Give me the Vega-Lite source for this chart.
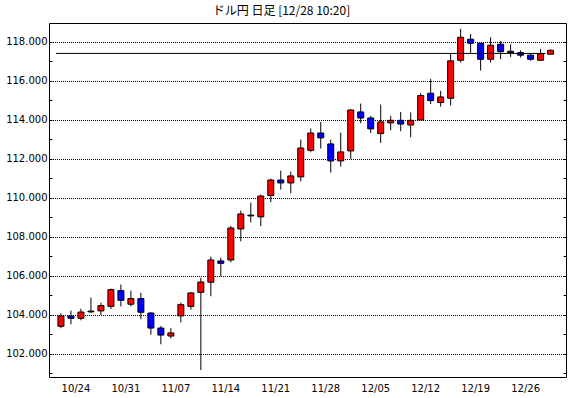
{
  "$schema": "https://vega.github.io/schema/vega-lite/v6.json",
  "width": 517,
  "height": 354,
  "autosize": {"type": "none"},
  "padding": {"left": 49, "top": 23, "right": 4, "bottom": 21},
  "background": "white",
  "title": {"text": "ドル円 日足 [12/28 10:20]", "font": "Noto Sans CJK JP", "fontSize": 12, "fontWeight": "normal", "color": "black", "anchor": "middle", "dx": -26, "offset": 5},
  "datasets": {
    "candles": [
      {"d": "10/20", "o": 103.42, "h": 104.09, "l": 103.32, "c": 103.95},
      {"d": "10/21", "o": 103.95, "h": 104.22, "l": 103.52, "c": 103.83},
      {"d": "10/24", "o": 103.83, "h": 104.32, "l": 103.73, "c": 104.15},
      {"d": "10/25", "o": 104.16, "h": 104.89, "l": 104.10, "c": 104.20},
      {"d": "10/26", "o": 104.21, "h": 104.63, "l": 104.00, "c": 104.48},
      {"d": "10/27", "o": 104.44, "h": 105.35, "l": 104.31, "c": 105.30},
      {"d": "10/28", "o": 105.25, "h": 105.56, "l": 104.44, "c": 104.75},
      {"d": "10/31", "o": 104.55, "h": 105.25, "l": 104.44, "c": 104.84},
      {"d": "11/01", "o": 104.84, "h": 105.13, "l": 103.78, "c": 104.14},
      {"d": "11/02", "o": 104.10, "h": 104.15, "l": 102.99, "c": 103.33},
      {"d": "11/03", "o": 103.33, "h": 103.44, "l": 102.50, "c": 102.97},
      {"d": "11/04", "o": 102.92, "h": 103.33, "l": 102.80, "c": 103.08},
      {"d": "11/07", "o": 103.95, "h": 104.63, "l": 103.62, "c": 104.53},
      {"d": "11/08", "o": 104.44, "h": 105.18, "l": 104.27, "c": 105.13},
      {"d": "11/09", "o": 105.16, "h": 105.91, "l": 101.18, "c": 105.69},
      {"d": "11/10", "o": 105.68, "h": 106.99, "l": 104.96, "c": 106.82},
      {"d": "11/11", "o": 106.77, "h": 106.94, "l": 105.98, "c": 106.65},
      {"d": "11/14", "o": 106.82, "h": 108.56, "l": 106.70, "c": 108.46},
      {"d": "11/15", "o": 108.41, "h": 109.35, "l": 107.78, "c": 109.18},
      {"d": "11/16", "o": 109.08, "h": 109.76, "l": 108.75, "c": 109.12},
      {"d": "11/17", "o": 109.03, "h": 110.17, "l": 108.55, "c": 110.10},
      {"d": "11/18", "o": 110.12, "h": 110.99, "l": 109.78, "c": 110.92},
      {"d": "11/21", "o": 110.92, "h": 111.40, "l": 110.43, "c": 110.77},
      {"d": "11/22", "o": 110.77, "h": 111.35, "l": 110.24, "c": 111.13},
      {"d": "11/23", "o": 111.08, "h": 112.99, "l": 110.85, "c": 112.56},
      {"d": "11/24", "o": 112.44, "h": 113.56, "l": 112.34, "c": 113.33},
      {"d": "11/25", "o": 113.33, "h": 113.90, "l": 112.53, "c": 113.08},
      {"d": "11/28", "o": 112.77, "h": 112.99, "l": 111.30, "c": 111.90},
      {"d": "11/29", "o": 111.90, "h": 113.35, "l": 111.61, "c": 112.36},
      {"d": "11/30", "o": 112.41, "h": 114.56, "l": 112.00, "c": 114.51},
      {"d": "12/01", "o": 114.41, "h": 114.84, "l": 113.83, "c": 114.10},
      {"d": "12/02", "o": 114.10, "h": 114.21, "l": 113.33, "c": 113.54},
      {"d": "12/05", "o": 113.30, "h": 114.79, "l": 112.82, "c": 113.90},
      {"d": "12/06", "o": 113.85, "h": 114.21, "l": 113.47, "c": 113.98},
      {"d": "12/07", "o": 113.98, "h": 114.41, "l": 113.42, "c": 113.79},
      {"d": "12/08", "o": 113.74, "h": 114.38, "l": 113.11, "c": 113.98},
      {"d": "12/09", "o": 114.00, "h": 115.38, "l": 114.00, "c": 115.25},
      {"d": "12/12", "o": 115.37, "h": 116.10, "l": 114.82, "c": 114.99},
      {"d": "12/13", "o": 114.89, "h": 115.49, "l": 114.68, "c": 115.18},
      {"d": "12/14", "o": 115.11, "h": 117.42, "l": 114.74, "c": 117.03},
      {"d": "12/15", "o": 117.06, "h": 118.67, "l": 116.94, "c": 118.24},
      {"d": "12/16", "o": 118.14, "h": 118.41, "l": 117.44, "c": 117.93},
      {"d": "12/19", "o": 117.93, "h": 117.95, "l": 116.53, "c": 117.11},
      {"d": "12/20", "o": 117.11, "h": 118.24, "l": 116.94, "c": 117.83},
      {"d": "12/21", "o": 117.88, "h": 118.05, "l": 117.11, "c": 117.50},
      {"d": "12/22", "o": 117.52, "h": 117.88, "l": 117.23, "c": 117.46},
      {"d": "12/23", "o": 117.45, "h": 117.57, "l": 117.20, "c": 117.32},
      {"d": "12/26", "o": 117.32, "h": 117.40, "l": 117.03, "c": 117.11},
      {"d": "12/27", "o": 117.06, "h": 117.64, "l": 117.03, "c": 117.40},
      {"d": "12/28", "o": 117.37, "h": 117.62, "l": 117.37, "c": 117.57}
    ],
    "last": [{"price": 117.41, "from": "10/20", "to": "12/28"}]
  },
  "config": {
    "view": {"stroke": "black", "strokeWidth": 1},
    "axis": {"labelFont": "DejaVu Sans", "labelFontSize": 10, "labelColor": "black", "tickColor": "black", "tickWidth": 1, "domain": false, "title": null}
  },
  "layer": [
    {
      "data": {"name": "candles"},
      "mark": {"type": "rule", "color": "black", "strokeWidth": 1},
      "encoding": {
        "x": {
          "field": "d", "type": "ordinal",
          "scale": {"paddingInner": 0, "paddingOuter": 0.87, "align": 0.4},
          "axis": {
            "orient": "bottom", "bandPosition": 0, "tickSize": 0, "labelPadding": 6, "labelAngle": 0, "labelOffset": -5,
            "labelOverlap": false, "labelFlush": false, "labelBound": false, "grid": false,
            "labelExpr": "indexof(['10/24','10/31','11/07','11/14','11/21','11/28','12/05','12/12','12/19','12/26'], datum.value) >= 0 ? datum.value : ''",
            "encode": {"ticks": {"update": {"y2": {"signal": "indexof(['10/24','10/31','11/07','11/14','11/21','11/28','12/05','12/12','12/19','12/26'], datum.value) >= 0 ? -5 : -2.5"}}}}
          }
        },
        "y": {
          "field": "l", "type": "quantitative",
          "scale": {"domain": [100.82, 118.97], "nice": false, "zero": false},
          "axis": {
            "orient": "left", "values": [101,102,103,104,105,106,107,108,109,110,111,112,113,114,115,116,117,118],
            "tickSize": -3, "labelPadding": 5, "labelOverlap": false, "labelFlush": false, "labelBound": false,
            "labelExpr": "datum.value % 2 == 0 ? format(datum.value, '.3f') : ''",
            "grid": true, "gridColor": "black", "gridDash": [1, 1], "gridDashOffset": 0.5, "gridWidth": 1,
            "gridOpacity": {"condition": {"test": "datum.value % 2 == 0", "value": 1}, "value": 0}
          }
        },
        "y2": {"field": "h"}
      }
    },
    {
      "data": {"name": "candles"},
      "mark": {"type": "bar", "width": 6, "stroke": "black", "strokeWidth": 1},
      "encoding": {
        "x": {
          "field": "d", "type": "ordinal",
          "axis": {
            "orient": "top", "bandPosition": 0, "labels": false, "tickSize": 0, "grid": false,
            "encode": {"ticks": {"update": {"y2": {"signal": "indexof(['10/24','10/31','11/07','11/14','11/21','11/28','12/05','12/12','12/19','12/26'], datum.value) >= 0 ? 4 : 2"}}}}
          }
        },
        "y": {
          "field": "o", "type": "quantitative",
          "axis": {"orient": "right", "values": [101,102,103,104,105,106,107,108,109,110,111,112,113,114,115,116,117,118], "tickSize": -3, "labels": false, "grid": false}
        },
        "y2": {"field": "c"},
        "fill": {"condition": {"test": "datum.c > datum.o", "value": "#ff0000"}, "value": "#0000ff"}
      }
    },
    {
      "data": {"name": "last"},
      "mark": {"type": "rule", "color": "black", "strokeWidth": 1, "x2Offset": -5},
      "encoding": {
        "x": {"field": "from", "type": "ordinal", "bandPosition": 0, "axis": null},
        "x2": {"field": "to"},
        "y": {"field": "price", "type": "quantitative", "axis": null}
      }
    }
  ],
  "resolve": {"axis": {"x": "independent", "y": "independent"}}
}
